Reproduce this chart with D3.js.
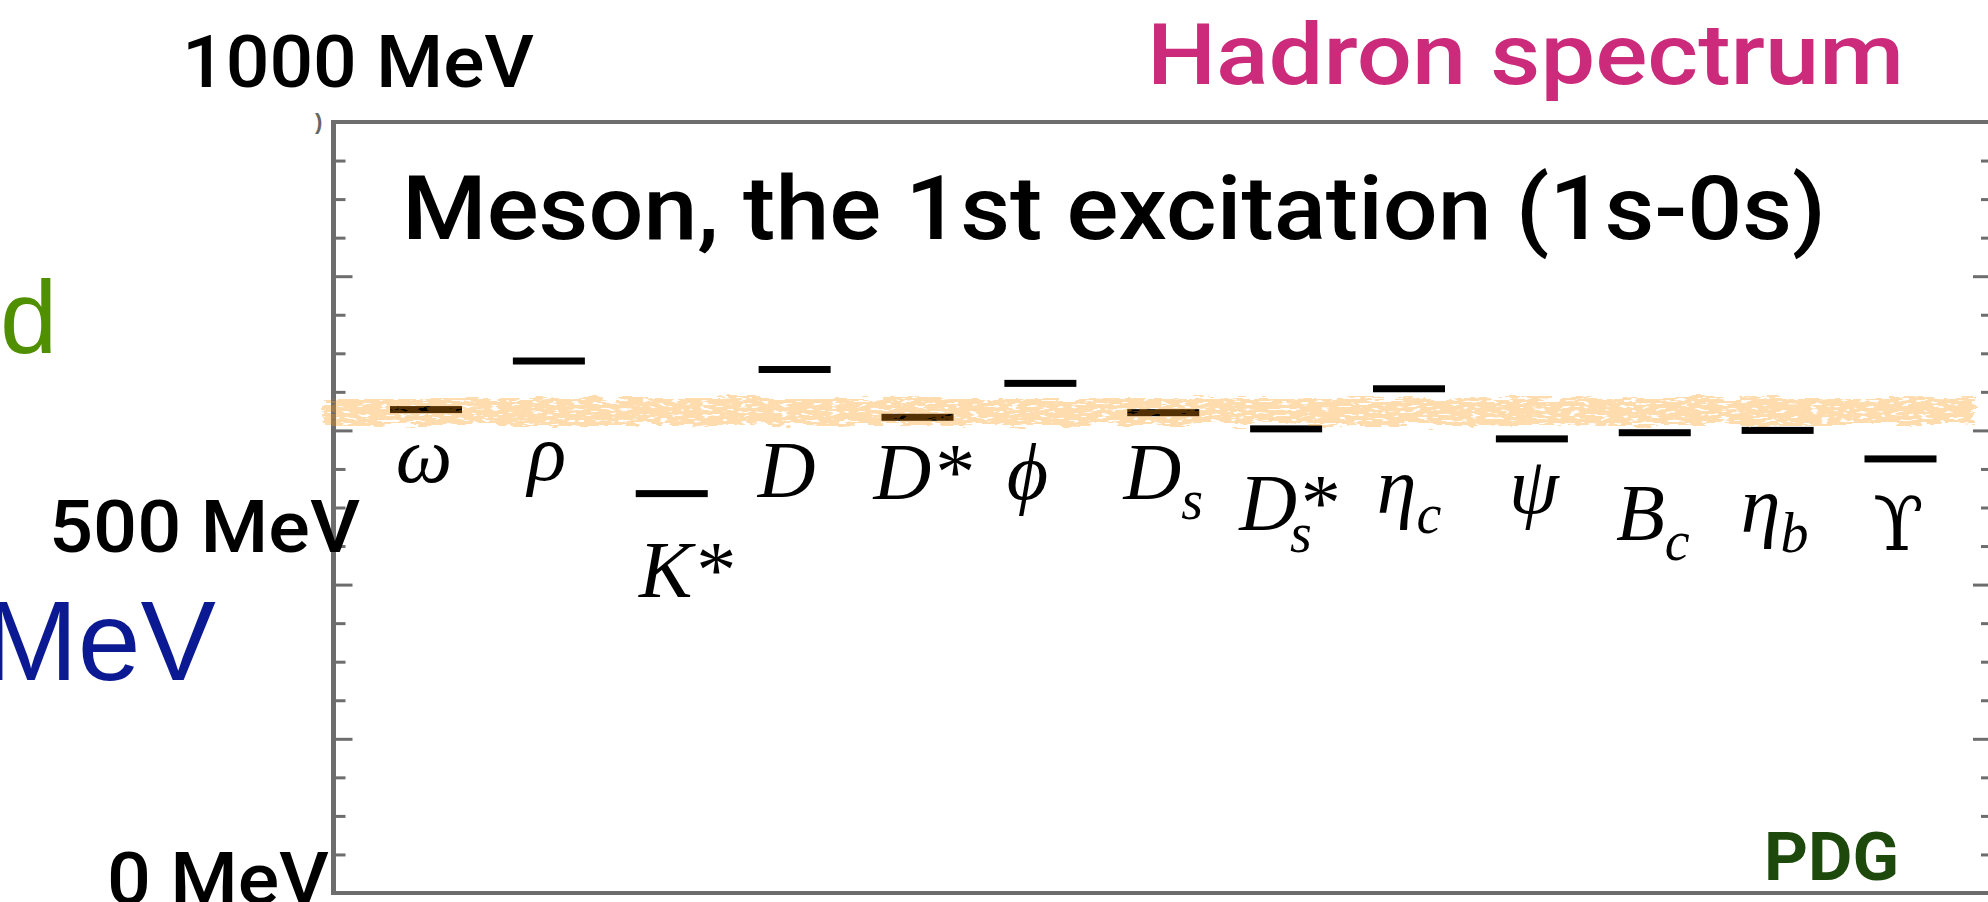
<!DOCTYPE html>
<html>
<head>
<meta charset="utf-8">
<script src="https://cdn.jsdelivr.net/npm/d3@7"></script>
<style>
  html, body { margin: 0; padding: 0; background: #fff; overflow: hidden; }
  svg { display: block; }
</style>
</head>
<body>
<svg id="chart" width="1988" height="902"></svg>
<script>
// ---- data: first radial excitation of each meson above its ground state (MeV) ----
const mesons        = ["omega", "rho", "Kstar", "D", "Dstar", "phi", "Ds", "DsStar", "etac", "psi", "Bc", "etab", "Upsilon"];
const labelMain     = ["ω", "ρ", "K*", "D", "D*", "ϕ", "D", "D", "η", "ψ", "B", "η", "ϒ"];
const labelSub      = ["", "", "", "", "", "", "s", "s", "c", "", "c", "b", ""];
const labelSup      = ["", "", "", "", "", "", "", "*", "", "", "", "", ""];
const excitationMeV = [627, 690, 518, 679, 617, 661, 623, 602, 654, 589, 597, 600, 563];

// highlighted common level
const bandMeV = [607, 642];

// axis
const axisLabelValues = [1000, 500, 0];
const axisLabelText   = ["1000 MeV", "500 MeV", "0 MeV"];
const majorTicks = [200, 400, 600, 800];
const minorTicks = [50, 100, 150, 250, 300, 350, 450, 500, 550, 650, 700, 750, 850, 900, 950];

// ---- layout ----
const W = 1988, H = 902;
const plot = { left: 333.5, top: 122, right: 1990, bottom: 893 };
const frameColor = "#6d6d6d";
const sans = "Roboto, 'Liberation Sans', Arial, sans-serif";
const serif = "'Liberation Serif', 'DejaVu Serif', 'Times New Roman', serif";

// label placement under each level: baseline (px) and horizontal nudge (px)
const labelBaseline = [482, 480, 597, 497, 499, 499, 499, 530, 513, 513, 540, 532, 550];
const labelNudge    = [-2, -2, 14, -8, 5, -13, 0, 2, 0, 2, -2, -3, -2];
// axis annotation placement: [x of ink end, baseline, text length]
const axisLabelPlace = [[531, 87, 352], [357, 552, 311], [326, 904, 222]];

const svg = d3.select("#chart");

const y = d3.scaleLinear().domain([0, 1000]).range([plot.bottom, plot.top]);
const x = d3.scalePoint().domain(mesons).range([426, 1900.5]);

// ---- filter for the hand-drawn highlighter stroke ----
const defs = svg.append("defs");
const f = defs.append("filter").attr("id", "marker")
  .attr("x", "-1%").attr("y", "-80%").attr("width", "102%").attr("height", "260%");
f.append("feTurbulence").attr("type", "fractalNoise")
  .attr("baseFrequency", "0.035 0.18").attr("numOctaves", 3).attr("seed", 4).attr("result", "noise");
f.append("feDisplacementMap").attr("in", "SourceGraphic").attr("in2", "noise")
  .attr("scale", 15).attr("xChannelSelector", "R").attr("yChannelSelector", "G").attr("result", "rough");
f.append("feTurbulence").attr("type", "fractalNoise")
  .attr("baseFrequency", "0.1 0.35").attr("numOctaves", 2).attr("seed", 11).attr("result", "speck");
f.append("feColorMatrix").attr("in", "speck").attr("type", "matrix")
  .attr("values", "0 0 0 0 0  0 0 0 0 0  0 0 0 0 0  -14 0 0 0 9.6").attr("result", "mask");
f.append("feComposite").attr("in", "rough").attr("in2", "mask").attr("operator", "in");

// ---- frame ----
const frame = svg.append("g");
frame.append("line")
  .attr("x1", plot.left - 2.5).attr("x2", W + 5).attr("y1", plot.top).attr("y2", plot.top)
  .attr("stroke", frameColor).attr("stroke-width", 4);
frame.append("line")
  .attr("x1", plot.left - 2.5).attr("x2", W + 5).attr("y1", plot.bottom).attr("y2", plot.bottom)
  .attr("stroke", frameColor).attr("stroke-width", 4);

function styleAxis(g, w) {
  g.select(".domain").remove();
  g.selectAll(".tick line").attr("stroke", frameColor).attr("stroke-width", w);
  g.selectAll(".tick text").remove();
}
// left axis: ticks point inward
svg.append("g").attr("transform", `translate(${plot.left},0)`)
  .call(d3.axisRight(y).tickValues(minorTicks).tickSize(12).tickFormat(""))
  .call(g => styleAxis(g, 3));
svg.append("g").attr("transform", `translate(${plot.left},0)`)
  .call(d3.axisRight(y).tickValues(majorTicks).tickSize(19).tickFormat(""))
  .call(g => styleAxis(g, 3));
svg.append("line")
  .attr("x1", plot.left).attr("x2", plot.left)
  .attr("y1", plot.top - 2).attr("y2", plot.bottom + 2)
  .attr("stroke", frameColor).attr("stroke-width", 5);

// right axis (its spine sits just past the page edge)
svg.append("g").attr("transform", `translate(${plot.right},0)`)
  .call(d3.axisLeft(y).tickValues(minorTicks).tickSize(9).tickFormat(""))
  .call(g => styleAxis(g, 3));
svg.append("g").attr("transform", `translate(${plot.right},0)`)
  .call(d3.axisLeft(y).tickValues(majorTicks).tickSize(17).tickFormat(""))
  .call(g => styleAxis(g, 3));

// stray bracket of an older tick label at the corner
svg.append("text").attr("x", 315).attr("y", 129)
  .attr("font-family", "'Liberation Sans', Arial, sans-serif").attr("font-weight", "bold")
  .attr("font-size", 22).attr("fill", "#666").text(")");

// ---- levels ----
const barW = 72, barH = 7;
svg.append("g").selectAll("rect")
  .data(mesons)
  .join("rect")
  .attr("x", d => x(d) - barW / 2)
  .attr("y", (d, i) => y(excitationMeV[i]) - barH / 2)
  .attr("width", barW)
  .attr("height", barH)
  .attr("fill", "#000");

// ---- level labels ----
const lab = svg.append("g")
  .attr("font-family", serif).attr("font-style", "italic").attr("font-size", 80).attr("fill", "#000");
mesons.forEach((m, i) => {
  const t = lab.append("text")
    .attr("x", x(m) + labelNudge[i]).attr("y", labelBaseline[i])
    .attr("text-anchor", "middle");
  const main = t.append("tspan").text(labelMain[i]);
  if (m === "Upsilon") main.attr("font-style", "normal").attr("font-family", "'DejaVu Serif', serif").attr("font-size", 74);
  if (labelSup[i]) {
    t.append("tspan").text(labelSup[i]);
  }
  if (labelSub[i]) {
    t.append("tspan")
      .attr("dx", labelSup[i] ? -47 : 0)
      .attr("dy", labelSup[i] ? 22 : 20)
      .attr("font-size", 56)
      .text(labelSub[i]);
  }
});

// ---- highlighter band across the common level ----
svg.append("g").attr("opacity", 0.33)
  .append("rect")
  .attr("x", 324).attr("width", 1650)
  .attr("y", y(bandMeV[1])).attr("height", y(bandMeV[0]) - y(bandMeV[1]))
  .attr("fill", "rgb(255,150,10)")
  .attr("filter", "url(#marker)");

// ---- texts ----
const txt = svg.append("g").attr("font-family", sans);

axisLabelText.forEach((s, i) => {
  const [xe, yb, len] = axisLabelPlace[i];
  txt.append("text")
    .attr("x", xe + 3).attr("y", yb)
    .attr("text-anchor", "end")
    .attr("font-size", 72).attr("font-weight", 500).attr("fill", "#000")
    .attr("textLength", len).attr("lengthAdjust", "spacingAndGlyphs")
    .text(s);
});

txt.append("text")
  .attr("x", 1147).attr("y", 84)
  .attr("font-size", 86).attr("font-weight", 500).attr("fill", "#cc2a7a")
  .attr("textLength", 757).attr("lengthAdjust", "spacingAndGlyphs")
  .text("Hadron spectrum");

txt.append("text")
  .attr("x", 402).attr("y", 239)
  .attr("font-size", 89).attr("font-weight", 500).attr("fill", "#000")
  .attr("textLength", 1424).attr("lengthAdjust", "spacingAndGlyphs")
  .text("Meson, the 1st excitation (1s-0s)");

txt.append("text")
  .attr("x", 1764).attr("y", 880)
  .attr("font-size", 66).attr("font-weight", "bold").attr("fill", "#1d4a0c")
  .attr("textLength", 135).attr("lengthAdjust", "spacingAndGlyphs")
  .text("PDG");

txt.append("text")
  .attr("x", 0).attr("y", 353)
  .attr("font-family", "'Liberation Sans', Arial, sans-serif")
  .attr("font-size", 103).attr("fill", "#4f8f00")
  .text("d");

txt.append("text")
  .attr("x", 216).attr("y", 680)
  .attr("text-anchor", "end")
  .attr("font-family", "'Liberation Sans', Arial, sans-serif")
  .attr("font-size", 113).attr("fill", "#0b1a93")
  .text("MeV");
</script>
</body>
</html>
